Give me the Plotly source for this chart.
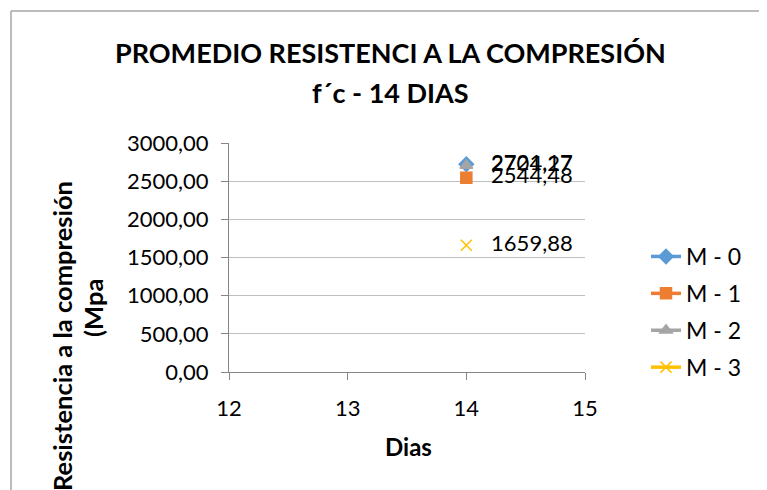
import plotly.graph_objects as go

series_names = ["M - 0", "M - 1", "M - 2", "M - 3"]
dias = [14]
m0 = [2721.17]
m1 = [2544.48]
m2 = [2704.27]
m3 = [1659.88]
values = [m0, m1, m2, m3]

colors = ["#5B9BD5", "#ED7D31", "#A5A5A5", "#FFC000"]
symbols = ["diamond", "square", "triangle-up", "x-thin"]

FONT = "Lato, Carlito, Liberation Sans, sans-serif"

W, H = 759, 482          # page body has an 8px margin
OFF = 8
L, R, T, B = 221, 182, 135, 118
pw, ph = W - L - R, H - T - B


def px(x):
    return (x - OFF - L) / pw


def py(y):
    return (H - B - (y - OFF)) / ph


fig = go.Figure()
for i, (name, vals) in enumerate(zip(series_names, values)):
    fig.add_trace(go.Scatter(
        x=dias, y=vals, name=name,
        mode="lines+markers+text",
        text=["   " + f"{v:.2f}".replace(".", ",") for v in vals],
        textposition="middle right",
        textfont=dict(size=22, color="#000000", family=FONT),
        line=dict(color=colors[i], width=3.5),
        marker=dict(color=colors[i], symbol=symbols[i], size=11,
                    line=dict(color=colors[i], width=1.5)),
        legendgroup=f"g{i}",
        cliponaxis=False,
    ))

fig.update_layout(
    width=W, height=H,
    margin=dict(l=L, r=R, t=T, b=B),
    paper_bgcolor="white", plot_bgcolor="white",
    separators=",.",
    font=dict(family=FONT, size=22, color="#000000"),
    showlegend=True,
    legend=dict(x=px(646), y=py(235), xanchor="left", yanchor="top",
                font=dict(size=23, family=FONT), traceorder="grouped",
                tracegroupgap=4, bgcolor="rgba(0,0,0,0)"),
    xaxis=dict(range=[12, 15], dtick=1, tick0=12, showgrid=False,
               showline=True, linecolor="#868686", linewidth=1,
               ticks="outside", ticklen=7, tickcolor="#868686",
               ticklabelstandoff=10,
               tickfont=dict(size=22, family=FONT), zeroline=False,
               fixedrange=True),
    yaxis=dict(range=[0, 3000], dtick=500, tick0=0, tickformat=".2f",
               showgrid=True, gridcolor="#BFBFBF", gridwidth=1,
               showline=True, linecolor="#868686", linewidth=1,
               ticks="outside", ticklen=7, tickcolor="#868686",
               ticklabelstandoff=8,
               tickfont=dict(size=22, family=FONT), zeroline=False,
               fixedrange=True),
    annotations=[
        dict(text="<b>PROMEDIO RESISTENCI A LA COMPRESIÓN</b>", x=px(390), y=py(52),
             xref="paper", yref="paper", showarrow=False, xanchor="center",
             yanchor="middle", font=dict(size=27, family=FONT)),
        dict(text="<b>f´c - 14 DIAS</b>", x=px(390), y=py(92),
             xref="paper", yref="paper", showarrow=False, xanchor="center",
             yanchor="middle", font=dict(size=27, family=FONT)),
        dict(text="<b>Dias</b>", x=px(408), y=py(446),
             xref="paper", yref="paper", showarrow=False, xanchor="center",
             yanchor="middle", font=dict(size=24, family=FONT)),
        dict(text="<b>Resistencia a la compresión</b>", x=px(62), y=py(336),
             xref="paper", yref="paper", showarrow=False, xanchor="center",
             yanchor="middle", textangle=-90, font=dict(size=25.5, family=FONT)),
        dict(text="<b>(Mpa</b>", x=px(93), y=py(308),
             xref="paper", yref="paper", showarrow=False, xanchor="center",
             yanchor="middle", textangle=-90, font=dict(size=25.5, family=FONT)),
    ],
    shapes=[
        dict(type="line", xref="paper", yref="paper", x0=px(11), x1=px(775),
             y0=py(11), y1=py(11), line=dict(color="#A6A6A6", width=1.5)),
        dict(type="line", xref="paper", yref="paper", x0=px(11), x1=px(11),
             y0=py(11), y1=py(490), line=dict(color="#A6A6A6", width=1.5)),
    ],
)

fig.write_html("out.html")
